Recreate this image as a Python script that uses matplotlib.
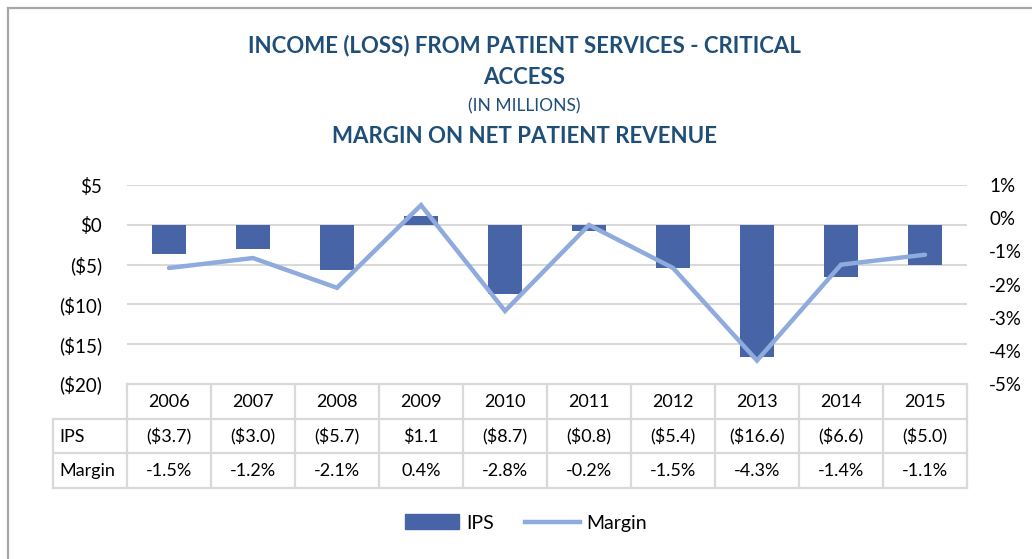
import matplotlib
matplotlib.use("Agg")
import matplotlib.pyplot as plt
from matplotlib.patches import Rectangle
from matplotlib.lines import Line2D

plt.rcParams['font.family'] = ['Lato', 'DejaVu Sans']
plt.rcParams['axes.unicode_minus'] = False

years = ['2006', '2007', '2008', '2009', '2010', '2011', '2012', '2013', '2014', '2015']
ips = [-3.7, -3.0, -5.7, 1.1, -8.7, -0.8, -5.4, -16.6, -6.6, -5.0]
margin = [-1.5, -1.2, -2.1, 0.4, -2.8, -0.2, -1.5, -4.3, -1.4, -1.1]
left_ticks = [5, 0, -5, -10, -15, -20]
right_ticks = [1, 0, -1, -2, -3, -4, -5]

BAR = '#4664A6'
LINE = '#8FAADC'
GRID = '#D9D9D9'
TITLE = '#1F4E79'
TXT = '#000000'

W, H = 1032, 559
fig = plt.figure(figsize=(W / 100, H / 100), dpi=100)

def fx(px):
    return px / W

def fy(py):
    return 1 - py / H

# outer border (only top & left visible)
fig.add_artist(Line2D([fx(8), fx(8)], [fy(8), 0], color='#A6A6A6', lw=1.6, transform=fig.transFigure))
fig.add_artist(Line2D([fx(8), 1], [fy(8), fy(8)], color='#A6A6A6', lw=1.6, transform=fig.transFigure))

x0, x1 = 127, 967
y0, y1 = 185.3, 383.7
ax = fig.add_axes([fx(x0), fy(y1), fx(x1) - fx(x0), fy(y0) - fy(y1)])
xs = list(range(len(years)))
ax.bar(xs, ips, width=0.4, color=BAR, zorder=2)
ax.set_xlim(-0.5, len(years) - 0.5)
ax.set_ylim(-20, 5)
ax.set_yticks(left_ticks)
ax.set_yticklabels([f'${v:g}' if v >= 0 else f'(${-v:g})' for v in left_ticks])
for v in left_ticks:
    ax.axhline(v, color=GRID, lw=1.5, zorder=1)
ax.set_xticks([])
for s in ax.spines.values():
    s.set_visible(False)
ax.tick_params(axis='y', length=0, labelsize=13.5, pad=18, labelcolor=TXT)

ax2 = ax.twinx()
ax2.plot(xs, margin, color=LINE, lw=3.2, solid_capstyle='round', solid_joinstyle='miter', zorder=3)
ax2.set_ylim(-5, 1)
ax2.set_yticks(right_ticks)
ax2.set_yticklabels([f'{v:g}%' for v in right_ticks])
ax2.tick_params(axis='y', length=0, labelsize=13.5, pad=16, labelcolor=TXT)
for s in ax2.spines.values():
    s.set_visible(False)

# data table
t_top, t_bot = 384, 488
tax = fig.add_axes([fx(x0), fy(t_bot), fx(x1) - fx(x0), fy(t_top) - fy(t_bot)])
tax.set_xlim(-0.5, len(years) - 0.5)
tax.set_ylim(3, 0)
tax.axis('off')
lab_left = -0.5 - (x0 - 53) / 84.0
gk = dict(color=GRID, lw=1.6, clip_on=False)
tax.plot([-0.5, len(years) - 0.5], [0, 0], **gk)
for r in (1, 2, 3):
    tax.plot([lab_left, len(years) - 0.5], [r, r], **gk)
for i in range(len(years) + 1):
    tax.plot([i - 0.5, i - 0.5], [0, 3], **gk)
tax.plot([lab_left, lab_left], [1, 3], **gk)

def fmt_ips(v):
    return f'${v:.1f}' if v >= 0 else f'(${-v:.1f})'

fs = 13
for i, y in enumerate(years):
    tax.text(i, 0.52, y, ha='center', va='center', fontsize=fs, color=TXT)
    tax.text(i, 1.52, fmt_ips(ips[i]), ha='center', va='center', fontsize=fs, color=TXT)
    tax.text(i, 2.52, f'{margin[i]:.1f}%', ha='center', va='center', fontsize=fs, color=TXT)
tax.text(lab_left + 0.07, 1.52, 'IPS', ha='left', va='center', fontsize=fs, color=TXT)
tax.text(lab_left + 0.07, 2.52, 'Margin', ha='left', va='center', fontsize=fs, color=TXT)

# titles
cx = fx(524)
fig.text(cx, fy(46), 'INCOME (LOSS) FROM PATIENT SERVICES - CRITICAL', ha='center', va='center',
         fontsize=16, fontweight='bold', color=TITLE)
fig.text(cx, fy(78), 'ACCESS', ha='center', va='center', fontsize=16, fontweight='bold', color=TITLE)
fig.text(cx, fy(106), '(IN MILLIONS)', ha='center', va='center', fontsize=12.5, color=TITLE)
fig.text(cx, fy(137), 'MARGIN ON NET PATIENT REVENUE', ha='center', va='center',
         fontsize=16, fontweight='bold', color=TITLE)

# legend
handles = [Rectangle((0, 0), 1, 1, color=BAR), Line2D([0], [0], color=LINE, lw=3.2)]
fig.legend(handles, ['IPS', 'Margin'], loc='center', bbox_to_anchor=(fx(526), fy(523)), ncol=2,
           frameon=False, fontsize=14, handlelength=2.8, handleheight=0.8, handletextpad=0.35,
           columnspacing=1.6)

fig.savefig('out.png', dpi=100)
